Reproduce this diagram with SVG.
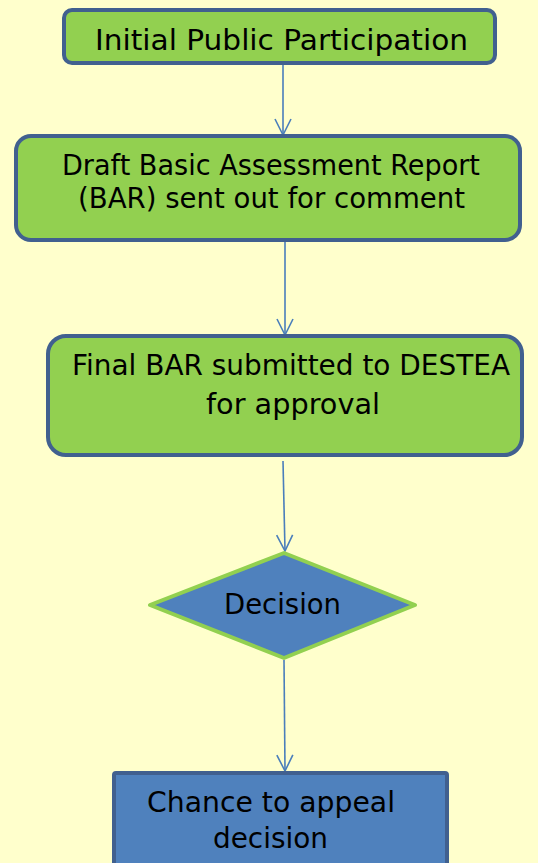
<svg xmlns="http://www.w3.org/2000/svg" width="538" height="863" viewBox="0 0 538 863">
<defs>
<style>
.bg{fill:#ffffcc}
.gbox{fill:#92d050;stroke:#41608f;stroke-width:4}
.bbox{fill:#4f81bd;stroke:#41608f;stroke-width:4}
.dia{fill:#4f81bd;stroke:#92d050;stroke-width:4;stroke-linejoin:round}
.t{font-family:"DejaVu Sans","Liberation Sans",sans-serif;font-size:29px;fill:#000;text-anchor:middle}
.c{fill:none;stroke:#4a7ebb;stroke-width:1.6}
</style>
<marker id="arr" viewBox="0 0 20 20" refX="18" refY="10" markerWidth="20" markerHeight="20" markerUnits="userSpaceOnUse" orient="auto">
<path d="M2,2 L18,10 L2,18" fill="none" stroke="#4a7ebb" stroke-width="1.6"/>
</marker>
</defs>
<rect class="bg" x="0" y="0" width="538" height="863"/>
<g id="connectors">
<line class="c" x1="283" y1="64" x2="283" y2="135" marker-end="url(#arr)"/>
<line class="c" x1="285" y1="241" x2="285" y2="335" marker-end="url(#arr)"/>
<line class="c" x1="283" y1="461" x2="285" y2="551" marker-end="url(#arr)"/>
<line class="c" x1="284" y1="660" x2="285" y2="771" marker-end="url(#arr)"/>
</g>
<g id="n1">
<rect class="gbox" x="64" y="10" width="431" height="53" rx="8"/>
<text class="t" x="281.5" y="50" textLength="373" lengthAdjust="spacingAndGlyphs">Initial Public Participation</text>
</g>
<g id="n2">
<rect class="gbox" x="16" y="136" width="504" height="104" rx="15"/>
<text class="t" x="271" y="175" textLength="418" lengthAdjust="spacingAndGlyphs">Draft Basic Assessment Report</text>
<text class="t" x="271.5" y="208" textLength="387" lengthAdjust="spacingAndGlyphs">(BAR) sent out for comment</text>
</g>
<g id="n3">
<rect class="gbox" x="48" y="336" width="474" height="119" rx="18"/>
<text class="t" x="291" y="375" textLength="438" lengthAdjust="spacingAndGlyphs">Final BAR submitted to DESTEA</text>
<text class="t" x="293" y="414" textLength="174" lengthAdjust="spacingAndGlyphs">for approval</text>
</g>
<g id="n4">
<polygon class="dia" points="284,553 415,605 284,658 150,605"/>
<text class="t" x="282.5" y="614" textLength="117" lengthAdjust="spacingAndGlyphs">Decision</text>
</g>
<g id="n5">
<rect class="bbox" x="114" y="773" width="333" height="100" rx="2"/>
<text class="t" x="271" y="812" textLength="248" lengthAdjust="spacingAndGlyphs">Chance to appeal</text>
<text class="t" x="270.5" y="848" textLength="115" lengthAdjust="spacingAndGlyphs">decision</text>
</g>
</svg>
